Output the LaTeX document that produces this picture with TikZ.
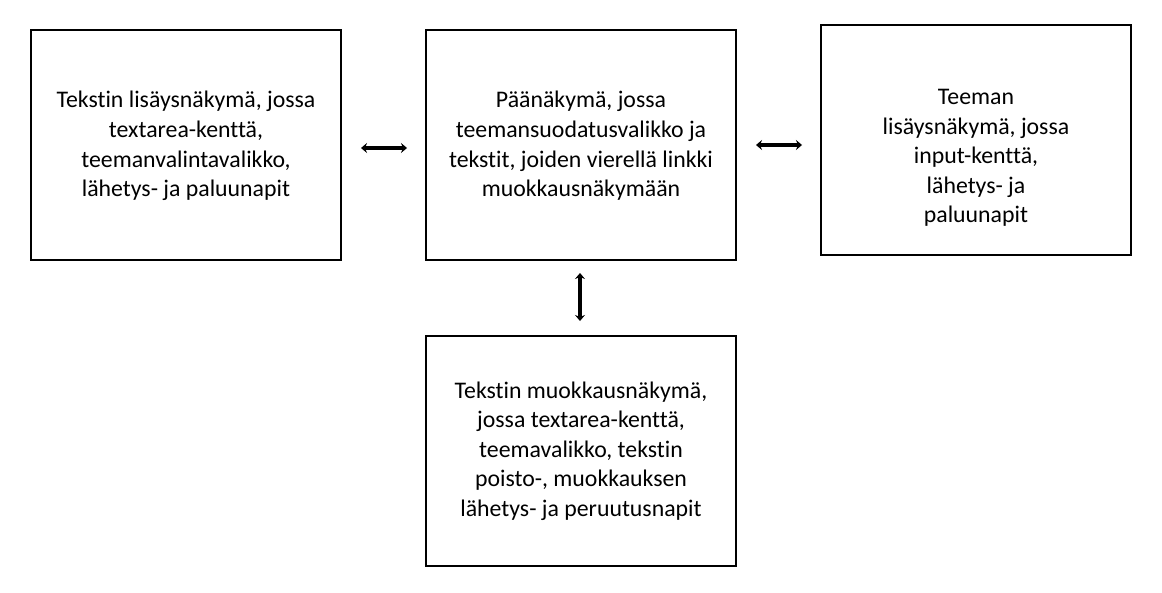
\documentclass[tikz,border=0pt]{standalone}
\usepackage{fontspec}
\setmainfont[Ligatures=NoCommon]{Carlito}
\usetikzlibrary{arrows.meta}
\begin{document}
\begin{tikzpicture}[x=1pt,y=-1pt,
  box/.style={draw=black,line width=1.2pt},
  lbl/.style={align=center,font=\fontsize{23.8}{29.6}\selectfont,inner sep=0pt},
  conn/.style={line width=3.5pt,{Stealth[length=6pt,width=10pt]}-{Stealth[length=6pt,width=10pt]}}]
\useasboundingbox[fill=white] (0,0) rectangle (1162,592);
\draw[box] (31,30) rectangle (341,260);
\draw[box] (426,30) rectangle (736,260);
\draw[box] (821,25) rectangle (1131,255);
\draw[box] (426,336) rectangle (736,566);
\node[lbl] (t1) at (186,146) {Tekstin lisäysnäkymä, jossa\\textarea-kenttä,\\teemanvalintavalikko,\\lähetys- ja paluunapit};
\node[lbl] (t2) at (581,146) {Päänäkymä, jossa\\teemansuodatusvalikko ja\\tekstit, joiden vierellä linkki\\muokkausnäkymään};
\node[lbl] (t3) at (976,158) {Teeman\\lisäysnäkymä, jossa\\input-kenttä,\\lähetys- ja\\paluunapit};
\node[lbl] (t4) at (581,451) {Tekstin muokkausnäkymä,\\jossa textarea-kenttä,\\teemavalikko, tekstin\\poisto-, muokkauksen\\lähetys- ja peruutusnapit};
\coordinate (a1) at (361,148); \coordinate (a2) at (407,148);
\coordinate (b1) at (756,145); \coordinate (b2) at (802,145);
\coordinate (c1) at (580,273); \coordinate (c2) at (580,321);
\draw[conn] (a1) -- (a2);
\draw[conn] (b1) -- (b2);
\draw[conn] (c1) -- (c2);
\end{tikzpicture}
\end{document}
